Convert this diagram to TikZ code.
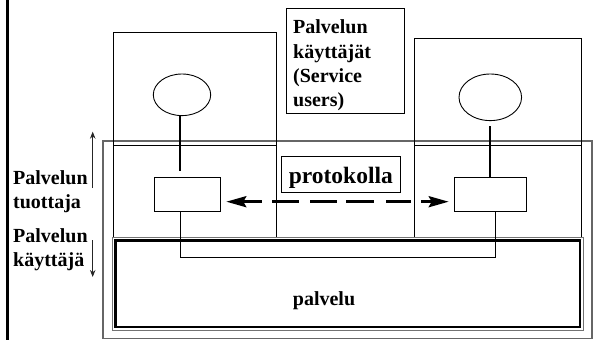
\documentclass[tikz,border=0pt]{standalone}
\usepackage{fontspec}
\setmainfont{Liberation Serif}
\usetikzlibrary{arrows.meta,shapes.geometric}
\tikzset{
  boxline/.style={draw=black, line width=0.9pt},
  plainbox/.style={boxline, rectangle, inner sep=0pt, outer sep=0pt},
  oval/.style={draw=black, line width=0.9pt, ellipse, inner sep=0pt, outer sep=0pt},
  lbl/.style={font=\bfseries\fontsize{20}{24}\selectfont, inner sep=0pt, anchor=base west},
  stem/.style={draw=black, line width=1.8pt},
  wire/.style={draw=black, line width=0.9pt},
  sidearrow/.style={draw=black!85, line width=0.9pt, -{Stealth[length=7pt,width=5.5pt]}},
  dasharrow/.style={draw=black, line width=2.8pt,
    {Stealth[length=20pt,width=11pt,inset=3pt]}-{Stealth[length=20pt,width=11pt,inset=3pt]},
    dash pattern=on 20pt off 10pt on 27pt off 11pt on 27pt off 9pt on 28pt off 12pt on 25pt off 10pt,
    shorten <=6.3pt, shorten >=5.6pt}
}
\begin{document}
\begin{tikzpicture}[x=1pt,y=-1pt]
\useasboundingbox (0,0) rectangle (595,340);
% left thick rule
\coordinate (rtop) at (7.5,0);
\coordinate (rbot) at (7.5,340);
\draw[line width=3pt] (rtop) -- (rbot);

% outer gray frame
\node[draw=black!60, line width=1.7pt, rectangle, inner sep=0pt, minimum width=489pt, minimum height=197.8pt] (outer) at (347.2,239.6) {};

% user boxes
\node[plainbox, minimum width=162.3pt, minimum height=205pt] (lub) at (194.85,134.8) {};
\node[plainbox, minimum width=167.7pt, minimum height=199pt] (rub) at (497.85,137.8) {};
\draw[wire] (lub.west |- 0,145.7) -- (lub.east |- 0,145.7);
\draw[wire] (rub.west |- 0,145.7) -- (rub.east |- 0,145.7);

% palvelu box (gray outer, black inner)
\node[draw=black, line width=2.2pt, rectangle, inner sep=0pt, minimum width=464.5pt, minimum height=86.5pt, fill=white] (pal) at (347.75,283.75) {};
\draw[draw=black!55, line width=1.4pt] ([shift={(-2.2,2.2)}]pal.south west) rectangle ([shift={(2.2,-2.2)}]pal.north east);
\node[lbl] (paltext) at (292.7,305) {palvelu};

% ellipses
\node[oval, minimum width=57.4pt, minimum height=41.6pt] (le) at (182,94.8) {};
\node[oval, minimum width=62.6pt, minimum height=46.6pt] (re) at (490.3,97.3) {};

% small boxes
\node[plainbox, minimum width=66pt, minimum height=34pt, fill=white] (lb) at (187,194.3) {};
\node[plainbox, minimum width=71.7pt, minimum height=34pt, fill=white] (rb) at (490.15,194.3) {};

% stems
\draw[stem] (le.south -| 180,0) -- (180,171);
\draw[stem, line width=1.5pt] (490,126) -- (rb.north -| 490,0);

% bottom wire
\draw[wire] (lb.south -| 180,0) -- (180,257.7) -- (495.3,257.7) -- (rb.south -| 495.3,0);

% protokolla
\node[plainbox, minimum width=119.3pt, minimum height=36pt, fill=white] (proto) at (340.65,174) {};
\node[font=\bfseries\fontsize{23.5}{28}\selectfont, inner sep=0pt, anchor=base] (prototext) at (340.8,183.3) {protokolla};

% dashed double arrow
\draw[dasharrow] (lb.east |- 0,201.7) -- (rb.west |- 0,201.7);

% service users box
\node[plainbox, minimum width=118pt, minimum height=105pt] (su) at (345,60.8) {};
\node[lbl] (su1) at (293,34) {Palvelun};
\node[lbl] (su2) at (293,58) {käyttäjät};
\node[lbl] (su3) at (293,82) {(Service};
\node[lbl] (su4) at (293,106) {users)};

% left labels
\node[lbl] (l1) at (13,184) {Palvelun};
\node[lbl] (l2) at (13,208) {tuottaja};
\node[lbl] (l3) at (13,242) {Palvelun};
\node[lbl] (l4) at (13,266) {käyttäjä};

% side arrows
\coordinate (upA) at (92.7,188);
\coordinate (upB) at (92.7,131.7);
\coordinate (dnA) at (92.7,240);
\coordinate (dnB) at (92.7,277);
\draw[sidearrow] (upA) -- (upB);
\draw[sidearrow] (dnA) -- (dnB);
\end{tikzpicture}
\end{document}
